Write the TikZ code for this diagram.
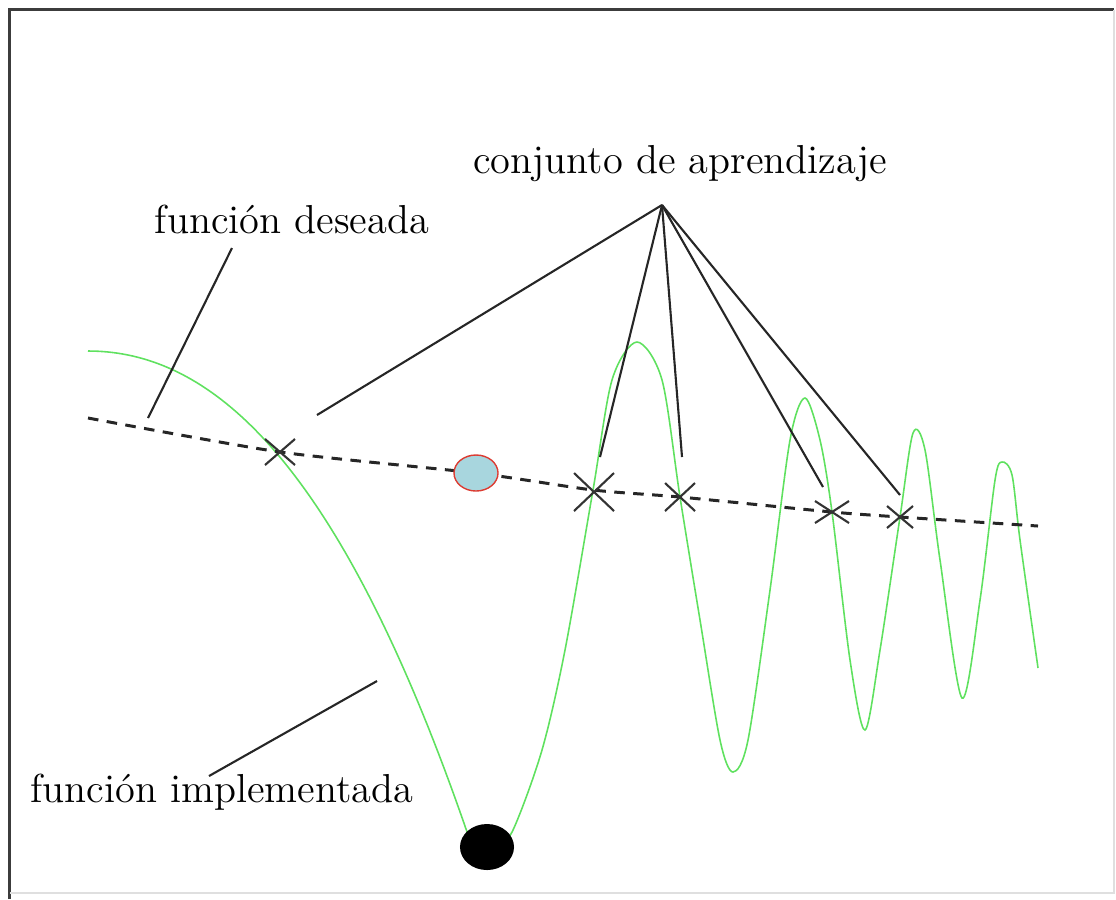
\documentclass[tikz,border=0pt]{standalone}
\usepackage{tikz}
\usetikzlibrary{calc}
\definecolor{verde}{RGB}{95, 225, 95}
\definecolor{celeste}{RGB}{168, 214, 222}
\definecolor{rojo}{RGB}{220, 60, 50}
\definecolor{marco}{RGB}{60, 60, 60}

\begin{document}
\begin{tikzpicture}[x=0.01cm, y=-0.01cm,
    etiqueta/.style={font=\fontsize{11.5}{14}\selectfont, inner sep=0pt},
    guia/.style={black!85, line width=0.6pt},
    cruz/.style={black!80, line width=0.6pt},
    curva/.style={verde, line width=0.45pt}]
  \useasboundingbox (0,0) rectangle (1116,899);

  % Marco
  \draw[marco, line width=0.7pt] (9.5,899) -- (9.5,9.5) -- (1114,9.5);
  \draw[gray!25, line width=0.4pt] (1114,9.5) -- (1114,893) -- (9.5,893);

  % Funcion implementada (rama izquierda y oscilaciones)
  \draw[curva, samples=80, domain=88:478]
    plot (\x, {351 + 24*((\x-88)/100)^2 + 2.5*((\x-88)/100)^3});
  \draw[curva] plot[smooth, tension=0.5] coordinates {
    (492,856) (513,830) (542,750) (565,650)
    (593,490) (612,380) (637,342) (662,380) (680,497) (700,620) (720,740)
    (733,772) (748,740) (770,590) (790,440) (805,398) (820,440) (832,512)
    (850,660) (865,730) (880,650) (900,517) (913,433) (925,450) (940,560)
    (962,698) (980,600) (995,480) (1002,462) (1012,475) (1020,540) (1038,668)};

  % Funcion deseada
  \draw[black!85, line width=0.85pt, dash pattern=on 3pt off 2.4pt]
    plot[smooth, tension=0.4] coordinates {
    (88,418) (280,452) (476,473) (593,490) (680,497) (832,512) (900,517)
    (1038,526)};

  % Puntos
  \draw[rojo, fill=celeste, line width=0.4pt] (476,473)
    ellipse [x radius=0.22cm, y radius=0.18cm];
  \fill[black] (487,847) ellipse [x radius=0.27cm, y radius=0.23cm];

  % Conjunto de aprendizaje
  \foreach \nombre/\px/\py/\dx/\dy in {x1/280/452/15/13, x2/594/492/20/19,
      x3/680/497/15/14, x4/832/512/17/11, x5/900/517/13/11} {
    \coordinate (\nombre) at (\px,\py);
    \draw[cruz] (\px-\dx,\py-\dy) -- (\px+\dx,\py+\dy)
      (\px-\dx,\py+\dy) -- (\px+\dx,\py-\dy);
  }

  % Etiquetas
  \node[etiqueta, anchor=base] (conj) at (680,173) {conjunto de aprendizaje};
  \node[etiqueta, anchor=base] (des) at (292,233) {función deseada};
  \node[etiqueta, anchor=base] (impl) at (222,802) {función implementada};

  % Guias
  \coordinate (cima) at (662,205);
  \coordinate (f1) at (317,415);
  \coordinate (f2) at (600,457);
  \coordinate (f3) at (682,457);
  \coordinate (f4) at (823,487);
  \coordinate (f5) at (900,495);
  \foreach \f in {f1,f2,f3,f4,f5}
    \draw[guia] (cima) -- (\f);

  \coordinate (des-a) at (232,248);
  \coordinate (des-b) at (148,418);
  \draw[guia] (des-a) -- (des-b);

  \coordinate (impl-a) at (377,681);
  \coordinate (impl-b) at (209,776);
  \draw[guia] (impl-a) -- (impl-b);
\end{tikzpicture}
\end{document}
